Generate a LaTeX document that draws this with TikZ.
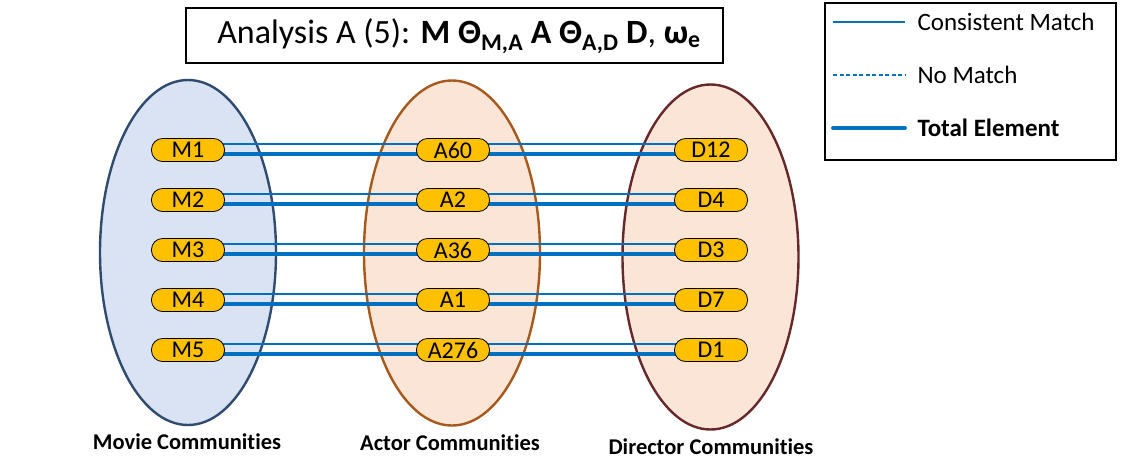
\documentclass[tikz,border=0pt]{standalone}
\usepackage{fontspec}
\setmainfont{Carlito}[Ligatures={TeX,NoCommon}]
\usepackage{xcolor}
\usepackage{tikz}
\usetikzlibrary{shapes.geometric}

\definecolor{linkblue}{HTML}{0070C0}
\definecolor{movfill}{HTML}{DAE3F3}
\definecolor{movedge}{HTML}{2F4B6E}
\definecolor{peach}{HTML}{FBE5D6}
\definecolor{actedge}{HTML}{A5591C}
\definecolor{diredge}{HTML}{662828}
\definecolor{gold}{HTML}{FFC000}

\pgfdeclarelayer{back}
\pgfdeclarelayer{links}
\pgfsetlayers{back,links,main}

\tikzset{
  comm/.style={ellipse, minimum width=176pt, minimum height=345pt, line width=2.4pt, inner sep=0pt},
  elem/.style={draw=black, fill=gold, rounded corners=11pt, minimum width=73pt, minimum height=23pt,
    inner sep=0pt, line width=0.8pt, font=\fontsize{24}{24}\selectfont},
  match/.style={draw=linkblue, line width=2pt},
  nomatch/.style={draw=linkblue, line width=1.4pt, dash pattern=on 4pt off 2.5pt},
  total/.style={draw=linkblue, line width=3.8pt},
  caption/.style={inner sep=0pt, font=\fontsize{22.5}{24}\selectfont\bfseries},
  legtext/.style={anchor=west, font=\fontsize{25}{26}\selectfont},
}

\begin{document}
\begin{tikzpicture}[x=1pt, y=-1pt]
                \useasboundingbox (0,0) rectangle (1125,459);

                % Communities
                \begin{pgfonlayer}{back}
                \node[comm, draw=movedge, fill=movfill] (movies) at (188,252.5) {};
                \node[comm, draw=actedge, fill=peach] (actors) at (452,253) {};
                \node[comm, draw=diredge, fill=peach] (directors) at (710.5,257) {};
                \end{pgfonlayer}

                % Elements
                \foreach \m/\a/\d [count=\i] in {M1/A60/D12, M2/A2/D4, M3/A36/D3, M4/A1/D7, M5/A276/D1} {
                    \node[elem] (m\i) at (188,100+50*\i) {\m};
                    \node[elem] (a\i) at (453,100+50*\i) {\a};
                    \node[elem] (d\i) at (711,100+50*\i) {\d};
                }

                % Links
                \begin{pgfonlayer}{links}
                \foreach \i in {1,...,5} {
                    \draw[match] ([yshift=6.5pt]m\i.center) -- ([yshift=6.5pt]a\i.center);
                    \draw[match] ([yshift=6.5pt]a\i.center) -- ([yshift=6.5pt]d\i.center);
                    \draw[total] ([yshift=-4pt]m\i.center) -- ([yshift=-4pt]a\i.center);
                    \draw[total] ([yshift=-4pt]a\i.center) -- ([yshift=-4pt]d\i.center);
                }
                \end{pgfonlayer}

                \node[caption] (movlbl) at (187,442) {Movie Communities};
                \node[caption] (actlbl) at (450,443) {Actor Communities};
                \node[caption] (dirlbl) at (711,447) {Director Communities};

                % Title
                \draw[line width=1.6pt] (186,8) rectangle (723,63);
                \node[font=\fontsize{34}{35}\selectfont] (title) at (459,36)
                    {Analysis A (5): \textbf{M Θ\textsubscript{M,A} A Θ\textsubscript{A,D} D}, \textbf{ω\textsubscript{e}}};

                % Legend
                \draw[line width=1.6pt] (825,3) rectangle (1116,160);
                \coordinate (l1a) at (833,22);  \coordinate (l1b) at (905,22);
                \coordinate (l2a) at (833,75);  \coordinate (l2b) at (905,75);
                \coordinate (l3a) at (833,128); \coordinate (l3b) at (905,128);
                \draw[match, line width=1.4pt] (l1a) -- (l1b);
                \draw[nomatch] (l2a) -- (l2b);
                \draw[total, line cap=round] (l3a) -- (l3b);
                \node[legtext] (leg1) at (914,22) {Consistent Match};
                \node[legtext] (leg2) at (914,75) {No Match};
                \node[legtext, font=\fontsize{25}{26}\selectfont\bfseries] (leg3) at (914,128) {Total Element};
            \end{tikzpicture}
\end{document}
